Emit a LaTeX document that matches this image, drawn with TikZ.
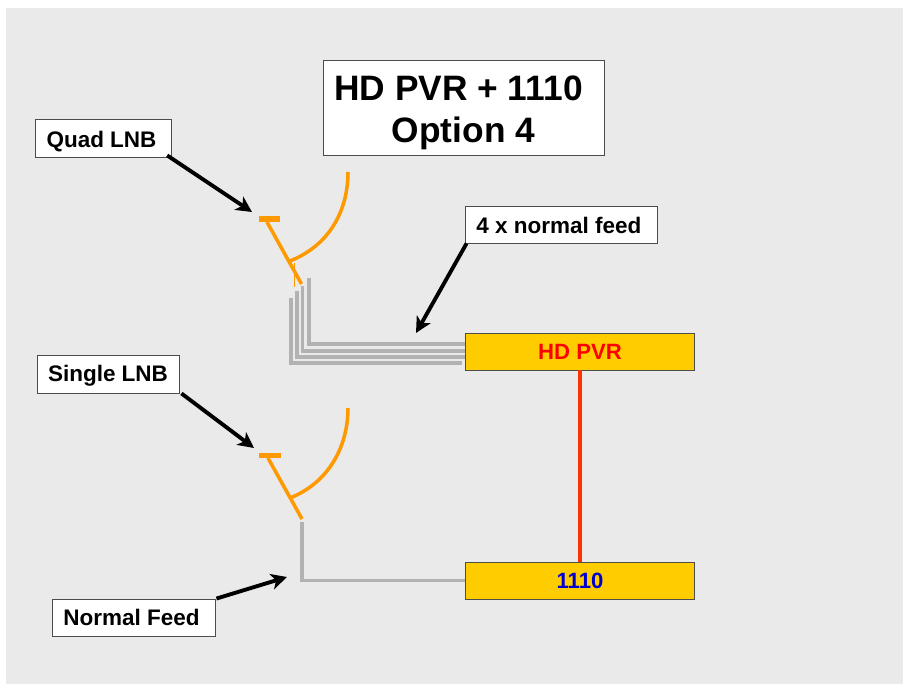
\documentclass[tikz,border=0pt]{standalone}
\usepackage{fontspec}
\setmainfont{Liberation Sans}
\usepackage[usenames,dvipsnames,svgnames,table]{xcolor}
\usetikzlibrary{positioning, arrows.meta}
\definecolor{SlideGray}{HTML}{EAEAEA}
\definecolor{DishOrange}{HTML}{FF9900}
\definecolor{FeedGray}{HTML}{B2B2B2}
\definecolor{BoxYellow}{HTML}{FFCC00}
\definecolor{LinkRed}{HTML}{FF3300}
\definecolor{BoxBlue}{HTML}{0000CC}
\tikzset{
  label box/.style={draw=black!70, line width=0.5pt, fill=white, font=\bfseries\fontsize{12.8}{15}\selectfont, inner sep=0pt, text height=10.5pt, text depth=0pt},
  unit box/.style={draw=black!70, line width=0.5pt, fill=BoxYellow, font=\bfseries\fontsize{12.6}{14}\selectfont, inner sep=0pt, minimum width=4.58cm, minimum height=0.74cm, text height=8.8pt, text depth=0pt},
  dish/.style={color=DishOrange, line width=2pt},
  feed/.style={color=FeedGray, line width=2.1pt},
  pointer/.style={-{Stealth[length=9pt,width=9pt,inset=2.5pt]}, line width=2.2pt}
}
\begin{document}
\begin{tikzpicture}
\useasboundingbox (0, 0) rectangle (18.06, -13.68);
\fill[color=white] (0, 0) rectangle (18.06, -13.68);
\fill[color=SlideGray] (0.12, -0.16) rectangle (18.06, -13.68);

% labels
\node[draw=black!70, line width=0.5pt, fill=white, inner sep=0pt, minimum width=5.62cm, minimum height=1.9cm, align=center, font=\bfseries\fontsize{20.1}{24}\selectfont] (Title) at (9.27, -2.15) {\rule{0pt}{20.5pt}HD PVR + 1110\kern0.2cm\\Option 4};
\node[label box, minimum width=2.73cm, minimum height=0.76cm] (Quad) at (2.07, -2.76) {Quad LNB\kern0.08cm};
\node[label box, minimum width=3.84cm, minimum height=0.74cm] (Four) at (11.22, -4.49) {4 x normal feed\kern0.08cm};
\node[label box, minimum width=2.84cm, minimum height=0.76cm, text height=9pt] (Single) at (2.16, -7.48) {Single LNB};
\node[label box, minimum width=3.26cm, minimum height=0.74cm, text height=9.5pt] (Normal) at (2.67, -12.35) {Normal Feed\kern0.08cm};

% units
\node[unit box, text=red] (PVR) at (11.6, -7.03) {HD PVR};
\node[unit box, text=BoxBlue] (Box) at (11.6, -11.61) {1110};

% upper dish
\coordinate (QuadTip) at (5.04, -4.24);
\coordinate (FourTip) at (8.32, -6.66);
\draw[dish, line width=3.4pt] (5.18, -4.38) -- (5.6, -4.38);
\draw[dish] (5.34, -4.44) -- (6.03, -5.68);
\draw[dish] (5.8, -5.22) .. controls (6.6, -4.9) and (6.96, -4.2) .. (6.96, -3.44);
\draw[color=DishOrange, line width=0.5pt] (5.89, -5.26) -- (5.89, -5.74);

% feeds to the PVR
\draw[feed] (6.18, -5.56) |- ([yshift=0.15cm]PVR.west);
\draw[feed] (6.05, -5.72) |- ([yshift=0.01cm]PVR.west);
\draw[feed] (5.94, -5.82) |- ([yshift=-0.11cm]PVR.west);
\draw[feed] (5.82, -5.96) |- ([shift={(-0.06, -0.23)}]PVR.west);

% lower dish
\coordinate (SingleTip) at (5.08, -8.96);
\coordinate (NormalTip) at (5.74, -11.54);
\draw[dish, line width=3.4pt] (5.18, -9.11) -- (5.62, -9.11);
\draw[dish] (5.36, -9.16) -- (6.04, -10.38);
\draw[dish] (5.8, -9.96) .. controls (6.6, -9.64) and (6.96, -8.9) .. (6.96, -8.16);
\draw[feed] (6.04, -10.44) |- (Box.west);

\draw[color=LinkRed, line width=2.3pt] (PVR) -- (Box);

% pointers
\draw[pointer] ([shift={(-0.1, 0.04)}]Quad.south east) -- (QuadTip);
\draw[pointer] ([xshift=0.04cm]Four.south west) -- (FourTip);
\draw[pointer] ([xshift=0.04cm]Single.south east) -- (SingleTip);
\draw[pointer] ([xshift=0.02cm]Normal.north east) -- (NormalTip);
\end{tikzpicture}
\end{document}
